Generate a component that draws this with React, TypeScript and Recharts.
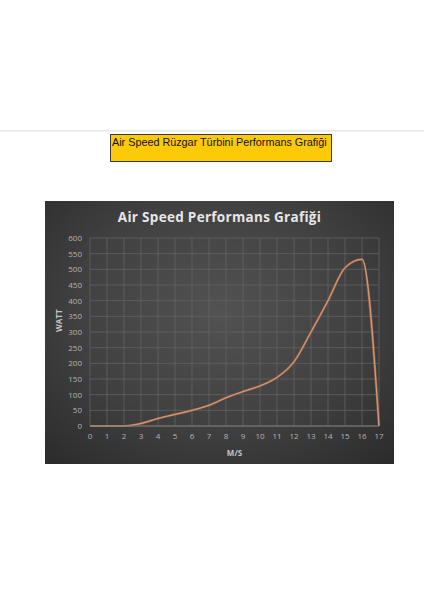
import React from "react";
import {
  LineChart, Line, XAxis, YAxis, CartesianGrid, Label,
} from "recharts";

// wind speed (m/s) and output power (W)
const speeds = [0, 1, 2, 3, 4, 5, 6, 7, 8, 9, 10, 11, 12, 13, 14, 15, 16, 17];
const watts = [0, 0, 0, 8, 24, 37, 50, 66, 90, 110, 128, 155, 205, 300, 400, 505, 532, 0];

const xTicks = speeds;
const yTicks = [0, 50, 100, 150, 200, 250, 300, 350, 400, 450, 500, 550, 600];

const chartData = speeds.map((s, i) => ({ speed: s, watt: watts[i] }));

const tickStyle = { fill: "#b4b4b4", fontSize: 8, fontFamily: "'Open Sans', sans-serif" };

export default function App() {
  return (
    <div style={{ position: "absolute", left: 0, top: 0, width: 424, height: 600, background: "#fff" }}>
      {/* page separator */}
      <div style={{ position: "absolute", left: 0, top: 130, width: 424, height: 2, background: "linear-gradient(#e4e4e4, #f6f6f6)" }} />

      {/* yellow caption */}
      <div
        style={{
          position: "absolute", left: 110, top: 134, width: 219, height: 26,
          background: "#fdca08", border: "1px solid #3a3a3a",
          fontFamily: "'Liberation Sans', Arial, sans-serif", fontSize: 10.8,
          color: "#111", lineHeight: "15px", paddingLeft: 1, whiteSpace: "nowrap",
        }}
      >
        Air Speed Rüzgar Türbini Performans Grafiği
      </div>

      {/* dark chart panel */}
      <div
        style={{
          position: "absolute", left: 45, top: 201, width: 349, height: 263,
          background: "radial-gradient(ellipse 75% 80% at 50% 42%, #525252 0%, #404040 55%, #2a2a2a 100%)",
        }}
      >
        <div
          style={{
            position: "absolute", left: 0, top: 7, width: 349, textAlign: "center",
            fontFamily: "'Open Sans', sans-serif", fontWeight: 700, fontSize: 13.5,
            color: "#e6e6e6", letterSpacing: 0.3,
          }}
        >
          Air Speed Performans Grafiği
        </div>

        <LineChart
          width={349}
          height={263}
          data={chartData}
          margin={{ top: 37, right: 15, left: 0, bottom: 0 }}
          style={{ position: "absolute", left: 0, top: 0 }}
        >
          <CartesianGrid stroke="#626262" strokeWidth={0.8} />
          <XAxis
            dataKey="speed"
            type="number"
            domain={[0, 17]}
            ticks={xTicks}
            interval={0}
            height={38}
            tick={tickStyle}
            tickSize={0}
            tickMargin={7}
            tickLine={false}
            axisLine={{ stroke: "#7a7a7a" }}
          >
            <Label
              value="M/S"
              position="insideBottom"
              offset={8}
              fill="#c4c4c4"
              fontSize={8}
              fontWeight={700}
              fontFamily="'Open Sans', sans-serif"
            />
          </XAxis>
          <YAxis
            type="number"
            domain={[0, 600]}
            ticks={yTicks}
            interval={0}
            width={45}
            tick={tickStyle}
            tickSize={0}
            tickMargin={8}
            tickLine={false}
            axisLine={false}
          >
            <Label
              value="WATT"
              angle={-90}
              position="insideLeft"
              offset={14}
              fill="#c4c4c4"
              fontSize={8}
              fontWeight={700}
              fontFamily="'Open Sans', sans-serif"
            />
          </YAxis>
          <Line
            dataKey="watt"
            type="monotone"
            stroke="#a8694a"
            strokeWidth={2.2}
            dot={false}
            isAnimationActive={false}
          />
          <Line
            dataKey="watt"
            type="monotone"
            stroke="#ddae8e"
            strokeWidth={0.8}
            dot={false}
            isAnimationActive={false}
          />
        </LineChart>
      </div>
    </div>
  );
}
